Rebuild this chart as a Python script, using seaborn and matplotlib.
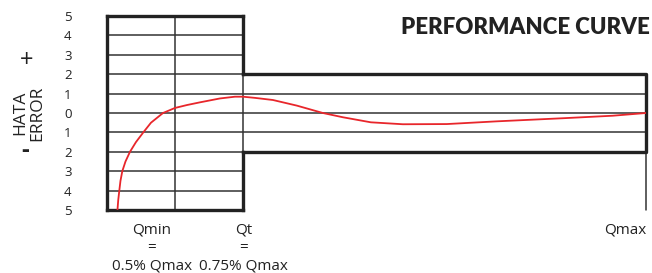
import numpy as np
import pandas as pd
import matplotlib
matplotlib.use("Agg")
import matplotlib.pyplot as plt
import matplotlib.transforms as mtransforms
import seaborn as sns

# positions on the flow axis: left edge = 0, Qmin line = 1, Qt = 2, Qmax at right
q_min, q_t, q_max = 1.0, 2.0, 7.93

# error curve (x in the same relative units, y in %)
curve_x = [0.154, 0.165, 0.181, 0.198, 0.225, 0.272, 0.338, 0.426, 0.534, 0.647,
           0.824, 1.0, 1.176, 1.368, 1.662, 1.882, 2.0, 2.176, 2.441, 2.794,
           3.176, 3.471, 3.882, 4.353, 5.0, 5.735, 6.706, 7.441, 7.93]
curve_y = [-5.0, -4.5, -4.0, -3.5, -3.0, -2.5, -2.0, -1.5, -1.0, -0.5,
           0.0, 0.26, 0.41, 0.55, 0.75, 0.84, 0.84, 0.78, 0.67, 0.38,
           0.0, -0.22, -0.48, -0.58, -0.57, -0.43, -0.27, -0.14, 0.0]

y_ticks = [5, 4, 3, 2, 1, 0, -1, -2, -3, -4, -5]
y_labels = [str(abs(v)) for v in y_ticks]

x_labels = ["Qmin\n=\n0.5% Qmax", "Qt\n=\n0.75% Qmax", "Qmax"]

sns.set_style("white")
plt.rcParams["font.family"] = ["Open Sans", "DejaVu Sans"]

fig = plt.figure(figsize=(6.52, 2.73), dpi=100)
ax = fig.add_axes([107 / 652, (273 - 210) / 273, (646 - 107) / 652, (210 - 16) / 273])

df = pd.DataFrame({"x": curve_x, "y": curve_y})
sns.lineplot(data=df, x="x", y="y", ax=ax, color="#e8262b", lw=1.3, zorder=5, sort=False)

dark = "#222222"
thin = "#333333"

# thin grid lines
for y in y_ticks:
    right = q_max if abs(y) <= 2 else q_t
    ax.plot([0, right], [y, y], color=thin, lw=1.1, zorder=2)
ax.plot([q_min, q_min], [-5, 5], color=thin, lw=1.1, zorder=2)
ax.plot([q_t, q_t], [-2, 2], color=thin, lw=1.1, zorder=2)
ax.plot([q_max, q_max], [-5, -2], color=thin, lw=1.1, zorder=2, clip_on=False)

# thick outline
thick = dict(color=dark, lw=2.4, zorder=3, clip_on=False, solid_capstyle="projecting")
ax.plot([0, 0], [-5, 5], **thick)
ax.plot([0, q_t], [5, 5], **thick)
ax.plot([0, q_t], [-5, -5], **thick)
ax.plot([q_t, q_t], [2, 5], **thick)
ax.plot([q_t, q_t], [-5, -2], **thick)
ax.plot([q_t, q_max, q_max, q_t], [2, 2, -2, -2], **thick)

ax.set_xlim(0, q_max)
ax.set_ylim(-5, 5)
sns.despine(ax=ax, left=True, bottom=True)
ax.set_yticks(y_ticks)
ax.set_yticklabels(y_labels)
ax.set_xticks([])
ax.tick_params(axis="y", direction="out", length=12.5, width=1.1, color=thin,
               pad=13, labelsize=9.5, labelcolor="#222222")
ax.set_xlabel("")
ax.set_ylabel("")

# x labels under the chart
trans = mtransforms.blended_transform_factory(ax.transData, ax.transAxes)
ax.text(0.66, -0.065, x_labels[0], transform=trans, ha="center", va="top",
        fontsize=11, linespacing=1.25, color="#222222")
ax.text(2.01, -0.065, x_labels[1], transform=trans, ha="center", va="top",
        fontsize=11, linespacing=1.25, color="#222222")
ax.text(q_max, -0.065, x_labels[2], transform=trans, ha="right", va="top",
        fontsize=11, color="#222222")

# y label, signs and title
fig.text(20 / 652, 1 - 113 / 273, "HATA", rotation=90, ha="center", va="center",
         fontsize=12.5, color="#222222")
fig.text(37 / 652, 1 - 113 / 273, "ERROR", rotation=90, ha="center", va="center",
         fontsize=12.5, color="#222222")
fig.text(27 / 652, 1 - 61 / 273, "+", ha="center", va="center", fontsize=17, color="#222222")
fig.text(25 / 652, 1 - 151 / 273, "-", ha="center", va="center", fontsize=17,
         fontweight="bold", color="#222222")
fig.text(650 / 652, 1 - 27 / 273, "PERFORMANCE CURVE", ha="right", va="center",
         fontsize=16, fontweight="heavy", family=["Lato", "DejaVu Sans"], color="#222222")

fig.savefig("out.png", dpi=100)
